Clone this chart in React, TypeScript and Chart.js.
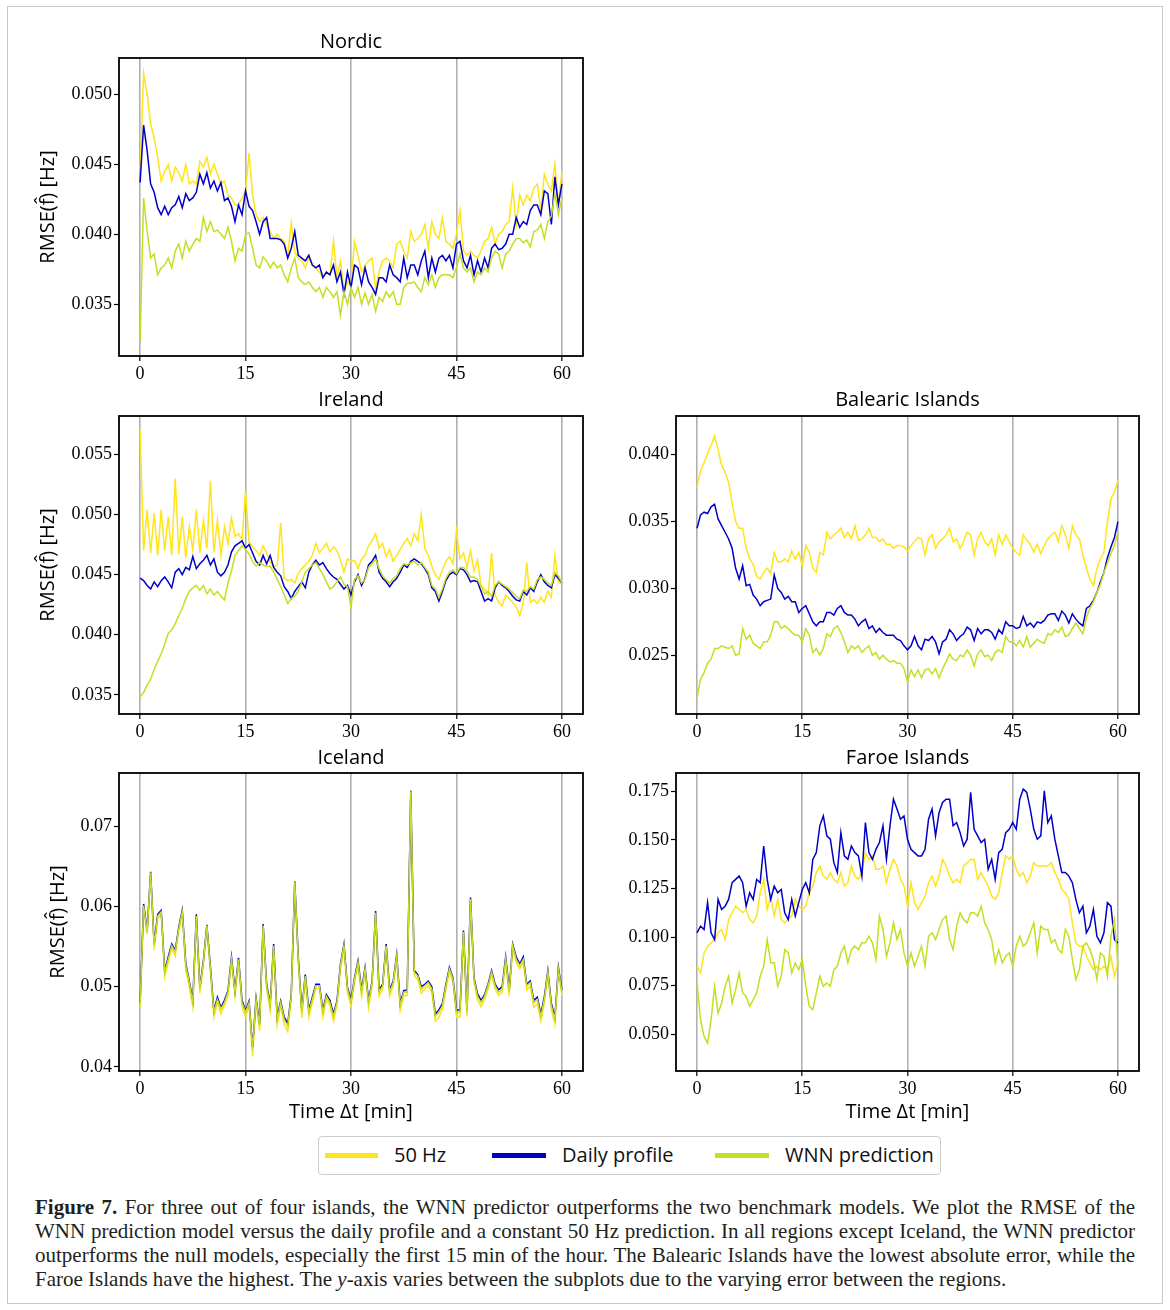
import React, { useEffect, useRef } from "react";
import { Chart, registerables } from "chart.js";

Chart.register(...registerables);

// time axis: one sample every 0.5 min
const TIME_MIN = Array.from({ length: 121 }, (_, i) => i * 0.5);
const X_TICKS = [0, 15, 30, 45, 60];
const SERIES_NAMES = ["50 Hz", "Daily profile", "WNN prediction"];
const SERIES_COLORS = ["#FFE419", "#0000C8", "#C6DE22"];

const NORDIC_50HZ = [
  0.0445, 0.0515, 0.0500, 0.0479, 0.0469, 0.0455, 0.0438, 0.0445, 0.0450, 0.0438,
  0.0448, 0.0444, 0.0438, 0.0450, 0.0436, 0.0438, 0.0436, 0.0452, 0.0448, 0.0455,
  0.0443, 0.0450, 0.0443, 0.0436, 0.0438, 0.0428, 0.0426, 0.0421, 0.0421, 0.0426,
  0.0431, 0.0458, 0.0428, 0.0414, 0.0409, 0.0412, 0.0407, 0.0402, 0.0397, 0.0400,
  0.0397, 0.0395, 0.0385, 0.0408, 0.0387, 0.0383, 0.0381, 0.0376, 0.0383, 0.0378,
  0.0376, 0.0373, 0.0369, 0.0373, 0.0371, 0.0395, 0.0369, 0.0381, 0.0359, 0.0366,
  0.0364,
  0.0395, 0.0385, 0.0373, 0.0378, 0.0381, 0.0383, 0.0361, 0.0373, 0.0381, 0.0383,
  0.0381, 0.0376, 0.0393, 0.0395, 0.0388, 0.0383, 0.0402, 0.0395, 0.0397, 0.0400,
  0.0407, 0.0390, 0.0409, 0.0400, 0.0397, 0.0412, 0.0395, 0.0393, 0.0390, 0.0400,
  0.0417, 0.0388, 0.0385, 0.0388, 0.0385, 0.0383, 0.0388, 0.0395, 0.0397, 0.0405,
  0.0393, 0.0400, 0.0402, 0.0407, 0.0409, 0.0433, 0.0407, 0.0428, 0.0421, 0.0428,
  0.0424, 0.0433, 0.0436, 0.0417, 0.0443, 0.0436, 0.0431, 0.0450, 0.0421, 0.0445,
];
const NORDIC_DAILY = [
  0.0437, 0.0478, 0.0460, 0.0436, 0.0430, 0.0419, 0.0414, 0.0420, 0.0414, 0.0419,
  0.0421, 0.0427, 0.0419, 0.0429, 0.0424, 0.0426, 0.0430, 0.0443, 0.0436, 0.0444,
  0.0433, 0.0438, 0.0431, 0.0437, 0.0424, 0.0426, 0.0420, 0.0409, 0.0421, 0.0414,
  0.0431, 0.0420, 0.0417, 0.0409, 0.0400, 0.0409, 0.0412, 0.0397, 0.0397, 0.0397,
  0.0396, 0.0393, 0.0383, 0.0390, 0.0402, 0.0385, 0.0383, 0.0381, 0.0385, 0.0378,
  0.0376, 0.0378, 0.0369, 0.0373, 0.0371, 0.0378, 0.0366, 0.0373, 0.0357, 0.0373,
  0.0362,
  0.0378, 0.0376, 0.0364, 0.0376, 0.0366, 0.0362, 0.0357, 0.0369, 0.0369, 0.0366,
  0.0378, 0.0371, 0.0369, 0.0366, 0.0383, 0.0369, 0.0378, 0.0378, 0.0371, 0.0381,
  0.0388, 0.0369, 0.0383, 0.0373, 0.0383, 0.0385, 0.0381, 0.0385, 0.0376, 0.0393,
  0.0395, 0.0381, 0.0376, 0.0385, 0.0371, 0.0381, 0.0373, 0.0383, 0.0376, 0.0390,
  0.0393, 0.0389, 0.0390, 0.0393, 0.0400, 0.0400, 0.0412, 0.0405, 0.0409, 0.0407,
  0.0417, 0.0421, 0.0421, 0.0414, 0.0431, 0.0429, 0.0407, 0.0441, 0.0421, 0.0436,
];
const NORDIC_WNN = [
  0.0323, 0.0426, 0.0402, 0.0383, 0.0386, 0.0371, 0.0376, 0.0378, 0.0383, 0.0376,
  0.0388, 0.0393, 0.0383, 0.0395, 0.0388, 0.0393, 0.0397, 0.0395, 0.0412, 0.0402,
  0.0409, 0.0402, 0.0403, 0.0400, 0.0397, 0.0405, 0.0395, 0.0381, 0.0390, 0.0388,
  0.0400, 0.0401, 0.0390, 0.0378, 0.0376, 0.0384, 0.0381, 0.0376, 0.0380, 0.0376,
  0.0378, 0.0371, 0.0366, 0.0376, 0.0383, 0.0369, 0.0366, 0.0364, 0.0366, 0.0362,
  0.0359, 0.0362, 0.0355, 0.0362, 0.0359, 0.0355, 0.0359, 0.0342, 0.0359, 0.0350,
  0.0362,
  0.0355, 0.0362, 0.0350, 0.0358, 0.0350, 0.0357, 0.0345, 0.0355, 0.0352, 0.0359,
  0.0355, 0.0359, 0.0350, 0.0350, 0.0362, 0.0365, 0.0365, 0.0366, 0.0362, 0.0359,
  0.0369, 0.0364, 0.0371, 0.0362, 0.0369, 0.0371, 0.0371, 0.0371, 0.0369, 0.0376,
  0.0386, 0.0376, 0.0373, 0.0376, 0.0366, 0.0373, 0.0371, 0.0376, 0.0373, 0.0383,
  0.0388, 0.0386, 0.0376, 0.0386, 0.0388, 0.0393, 0.0397, 0.0397, 0.0394, 0.0396,
  0.0391, 0.0402, 0.0403, 0.0407, 0.0397, 0.0409, 0.0413, 0.0429, 0.0414, 0.0426,
];

const IRELAND_50HZ = [
  0.0571, 0.0470, 0.0504, 0.0468, 0.0501, 0.0466, 0.0504, 0.0470, 0.0498, 0.0466,
  0.0530, 0.0467, 0.0498, 0.0464, 0.0490, 0.0470, 0.0504, 0.0468, 0.0495, 0.0472,
  0.0528, 0.0469, 0.0495, 0.0466, 0.0490, 0.0476, 0.0497, 0.0482, 0.0484, 0.0479,
  0.0519, 0.0477, 0.0473, 0.0470, 0.0466, 0.0474, 0.0468, 0.0461, 0.0456, 0.0458,
  0.0493, 0.0447, 0.0445, 0.0446, 0.0443, 0.0451, 0.0455, 0.0458, 0.0461, 0.0466,
  0.0476, 0.0468, 0.0472, 0.0476, 0.0469, 0.0473, 0.0470, 0.0462, 0.0452, 0.0463,
  0.0461,
  0.0462, 0.0455, 0.0463, 0.0466, 0.0474, 0.0478, 0.0484, 0.0472, 0.0476, 0.0465,
  0.0471, 0.0461, 0.0466, 0.0471, 0.0476, 0.0480, 0.0474, 0.0484, 0.0478, 0.0500,
  0.0472, 0.0466, 0.0457, 0.0450, 0.0446, 0.0454, 0.0461, 0.0465, 0.0459, 0.0487,
  0.0463, 0.0468, 0.0456, 0.0470, 0.0453, 0.0462, 0.0441, 0.0438, 0.0433, 0.0468,
  0.0433, 0.0427, 0.0424, 0.0433, 0.0430, 0.0427, 0.0423, 0.0416, 0.0427, 0.0460,
  0.0427, 0.0429, 0.0426, 0.0431, 0.0427, 0.0436, 0.0431, 0.0466, 0.0444, 0.0442,
];
const IRELAND_DAILY = [
  0.0447, 0.0445, 0.0441, 0.0438, 0.0444, 0.0440, 0.0445, 0.0448, 0.0444, 0.0439,
  0.0452, 0.0455, 0.0450, 0.0456, 0.0454, 0.0465, 0.0455, 0.0459, 0.0462, 0.0466,
  0.0458, 0.0463, 0.0452, 0.0449, 0.0452, 0.0458, 0.0469, 0.0474, 0.0476, 0.0478,
  0.0472, 0.0475, 0.0468, 0.0461, 0.0458, 0.0466, 0.0459, 0.0466, 0.0456, 0.0452,
  0.0449, 0.0440, 0.0436, 0.0430, 0.0436, 0.0440, 0.0444, 0.0439, 0.0452, 0.0458,
  0.0462, 0.0458, 0.0460, 0.0455, 0.0451, 0.0448, 0.0446, 0.0442, 0.0438, 0.0441,
  0.0433,
  0.0444, 0.0450, 0.0441, 0.0447, 0.0458, 0.0461, 0.0466, 0.0452, 0.0447, 0.0444,
  0.0440, 0.0444, 0.0447, 0.0452, 0.0458, 0.0456, 0.0461, 0.0463, 0.0461, 0.0459,
  0.0455, 0.0450, 0.0439, 0.0436, 0.0428, 0.0436, 0.0445, 0.0450, 0.0452, 0.0450,
  0.0455, 0.0454, 0.0450, 0.0444, 0.0445, 0.0444, 0.0436, 0.0428, 0.0430, 0.0428,
  0.0439, 0.0444, 0.0441, 0.0439, 0.0436, 0.0432, 0.0429, 0.0428, 0.0436, 0.0433,
  0.0439, 0.0436, 0.0444, 0.0450, 0.0444, 0.0441, 0.0439, 0.0450, 0.0447, 0.0443,
];
const IRELAND_WNN = [
  0.0348, 0.0352, 0.0358, 0.0363, 0.0371, 0.0378, 0.0384, 0.0392, 0.0401, 0.0404,
  0.0409, 0.0416, 0.0422, 0.0430, 0.0436, 0.0439, 0.0441, 0.0437, 0.0441, 0.0434,
  0.0438, 0.0433, 0.0436, 0.0432, 0.0429, 0.0443, 0.0453, 0.0466, 0.0470, 0.0474,
  0.0471, 0.0467, 0.0461, 0.0457, 0.0460, 0.0458, 0.0457, 0.0457, 0.0452, 0.0446,
  0.0440, 0.0433, 0.0426, 0.0430, 0.0432, 0.0436, 0.0444, 0.0452, 0.0455, 0.0458,
  0.0460, 0.0455, 0.0450, 0.0444, 0.0438, 0.0440, 0.0444, 0.0448, 0.0442, 0.0440,
  0.0423,
  0.0446, 0.0449, 0.0443, 0.0446, 0.0456, 0.0459, 0.0463, 0.0455, 0.0449, 0.0446,
  0.0443, 0.0447, 0.0449, 0.0455, 0.0459, 0.0458, 0.0460, 0.0461, 0.0458, 0.0460,
  0.0456, 0.0452, 0.0441, 0.0438, 0.0431, 0.0438, 0.0447, 0.0452, 0.0454, 0.0451,
  0.0456, 0.0456, 0.0453, 0.0448, 0.0448, 0.0446, 0.0440, 0.0434, 0.0436, 0.0432,
  0.0441, 0.0444, 0.0442, 0.0440, 0.0438, 0.0435, 0.0432, 0.0430, 0.0437, 0.0436,
  0.0440, 0.0438, 0.0446, 0.0448, 0.0446, 0.0443, 0.0441, 0.0452, 0.0449, 0.0443,
];

const BALEARIC_50HZ = [
  0.0376, 0.0388, 0.0394, 0.0401, 0.0407, 0.0414, 0.0404, 0.0392, 0.0387, 0.0379,
  0.0364, 0.0350, 0.0345, 0.0345, 0.0330, 0.0322, 0.0318, 0.0309, 0.0307, 0.0312,
  0.0315, 0.0311, 0.0327, 0.0320, 0.0320, 0.0322, 0.0320, 0.0328, 0.0322, 0.0327,
  0.0317, 0.0332, 0.0327, 0.0315, 0.0312, 0.0327, 0.0325, 0.0342, 0.0337, 0.0340,
  0.0342, 0.0345, 0.0338, 0.0342, 0.0337, 0.0347, 0.0336, 0.0337, 0.0340, 0.0345,
  0.0338, 0.0338, 0.0335, 0.0337, 0.0333, 0.0333, 0.0330, 0.0332, 0.0332, 0.0331,
  0.0328,
  0.0332, 0.0335, 0.0338, 0.0337, 0.0325, 0.0337, 0.0340, 0.0330, 0.0335, 0.0337,
  0.0340, 0.0345, 0.0335, 0.0337, 0.0330, 0.0335, 0.0342, 0.0340, 0.0325, 0.0337,
  0.0342, 0.0335, 0.0332, 0.0337, 0.0325, 0.0340, 0.0333, 0.0340, 0.0335, 0.0330,
  0.0327, 0.0325, 0.0340, 0.0336, 0.0333, 0.0327, 0.0333, 0.0326, 0.0332, 0.0337,
  0.0340, 0.0342, 0.0335, 0.0347, 0.0340, 0.0330, 0.0347, 0.0340, 0.0337, 0.0325,
  0.0315, 0.0307, 0.0302, 0.0315, 0.0322, 0.0327, 0.0350, 0.0367, 0.0372, 0.0381,
];
const BALEARIC_DAILY = [
  0.0345, 0.0355, 0.0357, 0.0356, 0.0361, 0.0363, 0.0352, 0.0347, 0.0342, 0.0337,
  0.0330, 0.0315, 0.0307, 0.0317, 0.0302, 0.0303, 0.0295, 0.0292, 0.0287, 0.0290,
  0.0291, 0.0292, 0.0310, 0.0300, 0.0297, 0.0292, 0.0294, 0.0290, 0.0290, 0.0282,
  0.0285, 0.0287, 0.0281, 0.0275, 0.0272, 0.0275, 0.0275, 0.0282, 0.0282, 0.0280,
  0.0285, 0.0287, 0.0282, 0.0280, 0.0280, 0.0277, 0.0272, 0.0275, 0.0277, 0.0270,
  0.0272, 0.0267, 0.0270, 0.0267, 0.0265, 0.0265, 0.0265, 0.0262, 0.0261, 0.0257,
  0.0254,
  0.0257, 0.0264, 0.0257, 0.0254, 0.0262, 0.0261, 0.0264, 0.0260, 0.0251, 0.0260,
  0.0262, 0.0269, 0.0266, 0.0261, 0.0264, 0.0266, 0.0271, 0.0269, 0.0261, 0.0270,
  0.0266, 0.0269, 0.0269, 0.0267, 0.0262, 0.0269, 0.0266, 0.0275, 0.0272, 0.0272,
  0.0270, 0.0271, 0.0279, 0.0272, 0.0274, 0.0271, 0.0275, 0.0274, 0.0276, 0.0280,
  0.0281, 0.0281, 0.0276, 0.0283, 0.0280, 0.0274, 0.0281, 0.0277, 0.0274, 0.0272,
  0.0285, 0.0287, 0.0291, 0.0297, 0.0305, 0.0312, 0.0323, 0.0331, 0.0338, 0.0350,
];
const BALEARIC_WNN = [
  0.0218, 0.0232, 0.0237, 0.0244, 0.0247, 0.0255, 0.0255, 0.0257, 0.0256, 0.0255,
  0.0257, 0.0250, 0.0251, 0.0270, 0.0262, 0.0265, 0.0259, 0.0257, 0.0255, 0.0260,
  0.0260, 0.0265, 0.0275, 0.0275, 0.0270, 0.0272, 0.0270, 0.0267, 0.0265, 0.0265,
  0.0260, 0.0270, 0.0265, 0.0252, 0.0255, 0.0250, 0.0255, 0.0266, 0.0264, 0.0270,
  0.0272, 0.0267, 0.0260, 0.0252, 0.0257, 0.0255, 0.0257, 0.0252, 0.0255, 0.0257,
  0.0250, 0.0252, 0.0247, 0.0250, 0.0247, 0.0245, 0.0246, 0.0244, 0.0244, 0.0240,
  0.0230,
  0.0239, 0.0234, 0.0239, 0.0233, 0.0239, 0.0240, 0.0236, 0.0240, 0.0233, 0.0240,
  0.0245, 0.0251, 0.0247, 0.0246, 0.0250, 0.0249, 0.0254, 0.0250, 0.0242, 0.0251,
  0.0254, 0.0249, 0.0250, 0.0246, 0.0252, 0.0254, 0.0252, 0.0264, 0.0260, 0.0260,
  0.0257, 0.0261, 0.0256, 0.0264, 0.0256, 0.0259, 0.0262, 0.0260, 0.0259, 0.0266,
  0.0265, 0.0269, 0.0267, 0.0271, 0.0264, 0.0265, 0.0270, 0.0274, 0.0270, 0.0266,
  0.0278, 0.0285, 0.0290, 0.0297, 0.0303, 0.0312, 0.0319, 0.0326, 0.0332, 0.0342,
];

const ICELAND_50HZ = [
  0.0474, 0.0598, 0.0565, 0.0640, 0.0546, 0.0585, 0.0590, 0.0512, 0.0530, 0.0548,
  0.0538, 0.0570, 0.0590, 0.0520, 0.0500, 0.0474, 0.0585, 0.0492, 0.0527, 0.0574,
  0.0518, 0.0462, 0.0480, 0.0466, 0.0477, 0.0489, 0.0531, 0.0488, 0.0531, 0.0475,
  0.0462, 0.0476, 0.0413, 0.0480, 0.0445, 0.0573, 0.0497, 0.0470, 0.0548, 0.0452,
  0.0476, 0.0453, 0.0444, 0.0484, 0.0628, 0.0530, 0.0461, 0.0510, 0.0462, 0.0480,
  0.0497, 0.0498, 0.0462, 0.0484, 0.0476, 0.0457, 0.0477, 0.0522, 0.0548, 0.0492,
  0.0476,
  0.0505, 0.0527, 0.0488, 0.0519, 0.0474, 0.0501, 0.0590, 0.0488, 0.0497, 0.0548,
  0.0488, 0.0501, 0.0535, 0.0470, 0.0489, 0.0489, 0.0741, 0.0514, 0.0509, 0.0492,
  0.0497, 0.0501, 0.0493, 0.0457, 0.0462, 0.0471, 0.0497, 0.0519, 0.0505, 0.0462,
  0.0462, 0.0565, 0.0463, 0.0607, 0.0505, 0.0483, 0.0475, 0.0484, 0.0497, 0.0515,
  0.0497, 0.0489, 0.0493, 0.0531, 0.0488, 0.0548, 0.0530, 0.0522, 0.0531, 0.0496,
  0.0501, 0.0474, 0.0479, 0.0457, 0.0480, 0.0515, 0.0471, 0.0453, 0.0519, 0.0489,
];
const ICELAND_DAILY = [
  0.0480, 0.0603, 0.0570, 0.0643, 0.0554, 0.0590, 0.0595, 0.0520, 0.0537, 0.0553,
  0.0545, 0.0574, 0.0595, 0.0529, 0.0507, 0.0483, 0.0590, 0.0499, 0.0532, 0.0577,
  0.0525, 0.0470, 0.0487, 0.0474, 0.0483, 0.0495, 0.0537, 0.0495, 0.0536, 0.0483,
  0.0470, 0.0482, 0.0425, 0.0486, 0.0454, 0.0578, 0.0503, 0.0479, 0.0553, 0.0462,
  0.0482, 0.0462, 0.0454, 0.0490, 0.0631, 0.0537, 0.0471, 0.0515, 0.0471, 0.0487,
  0.0503, 0.0503, 0.0471, 0.0490, 0.0483, 0.0466, 0.0482, 0.0528, 0.0553, 0.0499,
  0.0483,
  0.0511, 0.0532, 0.0496, 0.0524, 0.0483, 0.0507, 0.0594, 0.0496, 0.0503, 0.0553,
  0.0496, 0.0507, 0.0540, 0.0479, 0.0495, 0.0496, 0.0744, 0.0520, 0.0515, 0.0500,
  0.0503, 0.0507, 0.0500, 0.0466, 0.0471, 0.0479, 0.0503, 0.0524, 0.0511, 0.0471,
  0.0471, 0.0570, 0.0471, 0.0611, 0.0511, 0.0491, 0.0483, 0.0490, 0.0503, 0.0520,
  0.0503, 0.0496, 0.0500, 0.0537, 0.0496, 0.0553, 0.0537, 0.0528, 0.0537, 0.0503,
  0.0507, 0.0483, 0.0487, 0.0466, 0.0487, 0.0520, 0.0479, 0.0462, 0.0524, 0.0496,
];
const ICELAND_WNN = [
  0.0476, 0.0601, 0.0568, 0.0642, 0.0551, 0.0588, 0.0593, 0.0518, 0.0534, 0.0551,
  0.0543, 0.0572, 0.0593, 0.0526, 0.0505, 0.0480, 0.0588, 0.0497, 0.0530, 0.0576,
  0.0522, 0.0468, 0.0484, 0.0472, 0.0480, 0.0493, 0.0534, 0.0493, 0.0534, 0.0480,
  0.0468, 0.0480, 0.0422, 0.0484, 0.0451, 0.0576, 0.0501, 0.0476, 0.0551, 0.0459,
  0.0480, 0.0459, 0.0451, 0.0488, 0.0630, 0.0534, 0.0468, 0.0513, 0.0468, 0.0484,
  0.0501, 0.0501, 0.0468, 0.0488, 0.0480, 0.0463, 0.0480, 0.0526, 0.0551, 0.0497,
  0.0480,
  0.0509, 0.0530, 0.0493, 0.0522, 0.0480, 0.0505, 0.0592, 0.0493, 0.0501, 0.0551,
  0.0493, 0.0505, 0.0538, 0.0476, 0.0493, 0.0493, 0.0743, 0.0518, 0.0513, 0.0497,
  0.0501, 0.0505, 0.0497, 0.0463, 0.0468, 0.0476, 0.0501, 0.0522, 0.0509, 0.0468,
  0.0468, 0.0568, 0.0468, 0.0609, 0.0509, 0.0488, 0.0480, 0.0488, 0.0501, 0.0518,
  0.0501, 0.0493, 0.0497, 0.0534, 0.0493, 0.0551, 0.0534, 0.0526, 0.0534, 0.0501,
  0.0505, 0.0480, 0.0484, 0.0463, 0.0484, 0.0518, 0.0476, 0.0459, 0.0522, 0.0493,
];

const FAROE_50HZ = [
  0.0850, 0.0815, 0.0918, 0.0953, 0.0970, 0.0987, 0.1022, 0.1039, 0.0987, 0.1090,
  0.1125, 0.1159, 0.1142, 0.1125, 0.1142, 0.1090, 0.1073, 0.1108, 0.1228, 0.1297,
  0.1142, 0.1211, 0.1108, 0.1194, 0.1090, 0.1073, 0.1090, 0.1108, 0.1194, 0.1159,
  0.1142, 0.1159, 0.1228, 0.1263, 0.1332, 0.1366, 0.1314, 0.1297, 0.1332, 0.1297,
  0.1280, 0.1332, 0.1263, 0.1280, 0.1366, 0.1314, 0.1297, 0.1332, 0.1435, 0.1400,
  0.1418, 0.1349, 0.1349, 0.1366, 0.1280, 0.1349, 0.1400, 0.1366, 0.1297, 0.1263,
  0.1159,
  0.1280, 0.1177, 0.1142, 0.1177, 0.1211, 0.1280, 0.1314, 0.1263, 0.1314, 0.1400,
  0.1366, 0.1314, 0.1280, 0.1297, 0.1280, 0.1366, 0.1383, 0.1400, 0.1400, 0.1297,
  0.1332, 0.1297, 0.1263, 0.1211, 0.1194, 0.1228, 0.1332, 0.1418, 0.1400, 0.1418,
  0.1349, 0.1314, 0.1332, 0.1280, 0.1314, 0.1383, 0.1366, 0.1366, 0.1366, 0.1366,
  0.1383, 0.1332, 0.1297, 0.1245, 0.1228, 0.1194, 0.1073, 0.0970, 0.0953, 0.0953,
  0.0901, 0.0867, 0.0832, 0.0850, 0.0832, 0.0850, 0.0832, 0.0901, 0.0798, 0.0867,
];
const FAROE_DAILY = [
  0.1022, 0.1056, 0.1039, 0.1177, 0.1022, 0.0987, 0.1194, 0.1142, 0.1159, 0.1194,
  0.1280, 0.1297, 0.1314, 0.1280, 0.1159, 0.1228, 0.1194, 0.1297, 0.1280, 0.1469,
  0.1297, 0.1194, 0.1263, 0.1228, 0.1245, 0.1125, 0.1090, 0.1194, 0.1108, 0.1177,
  0.1245, 0.1280, 0.1228, 0.1400, 0.1435, 0.1573, 0.1624, 0.1521, 0.1504, 0.1383,
  0.1332, 0.1538, 0.1418, 0.1400, 0.1469, 0.1435, 0.1418, 0.1314, 0.1590, 0.1435,
  0.1400, 0.1452, 0.1487, 0.1573, 0.1400, 0.1573, 0.1710, 0.1659, 0.1607, 0.1624,
  0.1504,
  0.1452, 0.1435, 0.1418, 0.1418, 0.1452, 0.1607, 0.1659, 0.1521, 0.1641, 0.1693,
  0.1710, 0.1710, 0.1573, 0.1590, 0.1538, 0.1469, 0.1504, 0.1745, 0.1555, 0.1521,
  0.1487, 0.1504, 0.1349, 0.1400, 0.1297, 0.1435, 0.1452, 0.1538, 0.1555, 0.1590,
  0.1555, 0.1710, 0.1762, 0.1745, 0.1659, 0.1555, 0.1504, 0.1521, 0.1753, 0.1590,
  0.1624, 0.1504, 0.1418, 0.1332, 0.1332, 0.1314, 0.1280, 0.1194, 0.1125, 0.1159,
  0.1022, 0.1056, 0.1142, 0.1004, 0.0970, 0.1022, 0.1177, 0.1159, 0.0987, 0.0970,
];
const FAROE_WNN = [
  0.0763, 0.0574, 0.0488, 0.0454, 0.0574, 0.0746, 0.0608, 0.0660, 0.0746, 0.0798,
  0.0660, 0.0729, 0.0815, 0.0712, 0.0694, 0.0643, 0.0677, 0.0712, 0.0798, 0.0850,
  0.0987, 0.0867, 0.0867, 0.0746, 0.0798, 0.0935, 0.0918, 0.0815, 0.0867, 0.0832,
  0.0884, 0.0746, 0.0643, 0.0626, 0.0712, 0.0798, 0.0746, 0.0763, 0.0746, 0.0832,
  0.0850, 0.0918, 0.0953, 0.0867, 0.0935, 0.0953, 0.0935, 0.0970, 0.0970, 0.1004,
  0.0970, 0.0884, 0.1108, 0.1039, 0.0901, 0.0970, 0.1073, 0.0987, 0.1039, 0.0918,
  0.0850,
  0.0918, 0.0850, 0.0901, 0.0953, 0.0850, 0.1004, 0.1022, 0.0987, 0.1039, 0.1090,
  0.1108, 0.0987, 0.0935, 0.1056, 0.1125, 0.1090, 0.1073, 0.1125, 0.1125, 0.1108,
  0.1159, 0.1073, 0.1039, 0.0987, 0.0867, 0.0935, 0.0867, 0.0901, 0.0918, 0.0850,
  0.0953, 0.1004, 0.0953, 0.0970, 0.1022, 0.1073, 0.0918, 0.1056, 0.1039, 0.1039,
  0.0970, 0.0987, 0.0935, 0.0918, 0.1039, 0.1004, 0.0884, 0.0781, 0.0832, 0.0953,
  0.0970, 0.0935, 0.0884, 0.0781, 0.0918, 0.0901, 0.0798, 0.1004, 0.1090, 0.0850,
];

const Y_TICKS_NORDIC = [0.035, 0.04, 0.045, 0.05];
const Y_TICKS_IRELAND = [0.035, 0.04, 0.045, 0.05, 0.055];
const Y_TICKS_BALEARIC = [0.025, 0.03, 0.035, 0.04];
const Y_TICKS_ICELAND = [0.04, 0.05, 0.06, 0.07];
const Y_TICKS_FAROE = [0.05, 0.075, 0.1, 0.125, 0.15, 0.175];

const SERIF = "'Liberation Serif', 'DejaVu Serif', serif";
const SANS = "'Open Sans', 'DejaVu Sans', sans-serif";

type PanelCfg = {
  title: string;
  series: number[][];
  yMin: number;
  yMax: number;
  yTicks: number[];
  dec: number;
  left: number;
  top: number;
  width: number;
  height: number;
  yWidth: number;
  xHeight: number;
  titlePadBottom: number;
  yTitle: boolean;
  yTitlePad: number;
  xTitle: boolean;
};

const PANELS: PanelCfg[] = [
  { title: "Nordic", series: [NORDIC_50HZ, NORDIC_DAILY, NORDIC_WNN], yMin: 0.0313, yMax: 0.0526,
    yTicks: Y_TICKS_NORDIC, dec: 3, left: 20, top: 26, width: 575, height: 360, yWidth: 99, xHeight: 30,
    titlePadBottom: 4, yTitle: true, yTitlePad: 16, xTitle: false },
  { title: "Ireland", series: [IRELAND_50HZ, IRELAND_DAILY, IRELAND_WNN], yMin: 0.0334, yMax: 0.0582,
    yTicks: Y_TICKS_IRELAND, dec: 3, left: 20, top: 384, width: 575, height: 360, yWidth: 99, xHeight: 30,
    titlePadBottom: 4, yTitle: true, yTitlePad: 16, xTitle: false },
  { title: "Balearic Islands", series: [BALEARIC_50HZ, BALEARIC_DAILY, BALEARIC_WNN], yMin: 0.0206, yMax: 0.0429,
    yTicks: Y_TICKS_BALEARIC, dec: 3, left: 600, top: 384, width: 551, height: 360, yWidth: 76, xHeight: 30,
    titlePadBottom: 4, yTitle: false, yTitlePad: 0, xTitle: false },
  { title: "Iceland", series: [ICELAND_50HZ, ICELAND_DAILY, ICELAND_WNN], yMin: 0.0395, yMax: 0.0766,
    yTicks: Y_TICKS_ICELAND, dec: 2, left: 20, top: 742, width: 575, height: 389, yWidth: 99, xHeight: 60,
    titlePadBottom: 3, yTitle: true, yTitlePad: 26, xTitle: true },
  { title: "Faroe Islands", series: [FAROE_50HZ, FAROE_DAILY, FAROE_WNN], yMin: 0.031, yMax: 0.1845,
    yTicks: Y_TICKS_FAROE, dec: 3, left: 600, top: 742, width: 551, height: 389, yWidth: 76, xHeight: 60,
    titlePadBottom: 3, yTitle: false, yTitlePad: 0, xTitle: true },
];

const framePlugin = {
  id: "frame",
  afterDraw(chart: any) {
    const { ctx, chartArea: a } = chart;
    ctx.save();
    ctx.strokeStyle = "#000";
    ctx.lineWidth = 1.8;
    ctx.strokeRect(a.left, a.top, a.right - a.left, a.bottom - a.top);
    ctx.restore();
  },
};

function Panel({ cfg }: { cfg: PanelCfg }) {
  const ref = useRef<HTMLCanvasElement>(null);
  useEffect(() => {
    if (!ref.current) return;
    const datasets = cfg.series.map((vals, k) => ({
      label: SERIES_NAMES[k],
      data: TIME_MIN.map((t, i) => ({ x: t, y: vals[i] })),
      borderColor: SERIES_COLORS[k],
      backgroundColor: SERIES_COLORS[k],
      borderWidth: 1.5,
      pointRadius: 0,
      tension: 0,
      fill: false,
      order: 3 - k,
    }));
    const chart = new Chart(ref.current, {
      type: "line",
      data: { datasets },
      options: {
        responsive: false,
        maintainAspectRatio: false,
        animation: false,
        devicePixelRatio: 1,
        layout: { padding: { left: 0, right: 12, top: 0, bottom: 0 } },
        plugins: {
          legend: { display: false },
          tooltip: { enabled: false },
          title: {
            display: true,
            text: cfg.title,
            fullSize: false,
            color: "#000",
            font: { family: SANS, size: 20, weight: "normal", lineHeight: 1.2 },
            padding: { top: 4, bottom: cfg.titlePadBottom },
          },
        },
        scales: {
          x: {
            type: "linear",
            min: -3,
            max: 63,
            afterBuildTicks: (s: any) => {
              s.ticks = X_TICKS.map((v) => ({ value: v }));
            },
            afterFit: (s: any) => {
              s.height = cfg.xHeight;
            },
            border: { display: false },
            grid: {
              color: "#b0b0b0",
              lineWidth: 1.6,
              drawTicks: true,
              tickLength: 5,
              tickColor: "#000",
              tickWidth: 1.2,
            },
            ticks: {
              color: "#000",
              font: { family: SERIF, size: 18 },
              padding: 2,
              maxRotation: 0,
              autoSkip: false,
              callback: (v: any) => String(v),
            },
            title: {
              display: cfg.xTitle,
              text: "Time Δt [min]",
              color: "#000",
              font: { family: SANS, size: 20, lineHeight: 1.2 },
              padding: { top: 0, bottom: 7 },
            },
          },
          y: {
            type: "linear",
            min: cfg.yMin,
            max: cfg.yMax,
            afterBuildTicks: (s: any) => {
              s.ticks = cfg.yTicks.map((v) => ({ value: v }));
            },
            afterFit: (s: any) => {
              s.width = cfg.yWidth;
            },
            border: { display: false },
            grid: {
              drawOnChartArea: false,
              drawTicks: true,
              tickLength: 5,
              tickColor: "#000",
              tickWidth: 1.2,
            },
            ticks: {
              color: "#000",
              font: { family: SERIF, size: 18 },
              padding: 2,
              autoSkip: false,
              callback: (v: any) => Number(v).toFixed(cfg.dec),
            },
            title: {
              display: cfg.yTitle,
              text: "RMSE(f\u0302) [Hz]",
              color: "#000",
              font: { family: SANS, size: 20, lineHeight: 1.2 },
              padding: { top: cfg.yTitlePad, bottom: 0 },
            },
          },
        },
      } as any,
      plugins: [framePlugin],
    });
    return () => chart.destroy();
  }, [cfg]);
  return (
    <canvas
      ref={ref}
      width={cfg.width}
      height={cfg.height}
      style={{ position: "absolute", left: cfg.left, top: cfg.top, width: cfg.width, height: cfg.height }}
    />
  );
}

const LEGEND_ITEMS = [
  { lineLeft: 325, lineWidth: 53, textLeft: 394 },
  { lineLeft: 492, lineWidth: 54, textLeft: 562 },
  { lineLeft: 715, lineWidth: 54, textLeft: 785 },
];

const CAPTION_LINES = [
  "For three out of four islands, the WNN predictor outperforms the two benchmark models. We plot the RMSE of the",
  "WNN prediction model versus the daily profile and a constant 50 Hz prediction. In all regions except Iceland, the WNN predictor",
  "outperforms the null models, especially the first 15 min of the hour. The Balearic Islands have the lowest absolute error, while the",
];

export default function App() {
  const lineStyle = (i: number, justify: boolean): React.CSSProperties => ({
    position: "absolute",
    left: 35,
    top: 1195 + i * 24,
    width: 1100,
    height: 24,
    lineHeight: "24px",
    fontFamily: SERIF,
    fontSize: 21,
    color: "#231f20",
    whiteSpace: "nowrap",
    textAlign: justify ? "justify" : "left",
    textAlignLast: justify ? "justify" : "left",
  } as React.CSSProperties);

  return (
    <div style={{ position: "absolute", left: 0, top: 0, width: 1170, height: 1310, background: "#fff", overflow: "hidden" }}>
      <div
        style={{
          position: "absolute",
          left: 7,
          top: 6,
          width: 1156,
          height: 1298,
          border: "1px solid #c8c8c8",
          boxSizing: "border-box",
        }}
      />
      {PANELS.map((p) => (
        <Panel key={p.title} cfg={p} />
      ))}
      <div
        style={{
          position: "absolute",
          left: 318,
          top: 1136,
          width: 623,
          height: 39,
          border: "1px solid #cccccc",
          borderRadius: 4,
          boxSizing: "border-box",
        }}
      />
      {LEGEND_ITEMS.map((it, k) => (
        <React.Fragment key={k}>
          <div
            style={{
              position: "absolute",
              left: it.lineLeft,
              top: 1153,
              width: it.lineWidth,
              height: 5,
              background: SERIES_COLORS[k],
            }}
          />
          <div
            style={{
              position: "absolute",
              left: it.textLeft,
              top: 1143,
              height: 24,
              lineHeight: "24px",
              fontFamily: SANS,
              fontSize: 20,
              color: "#111",
              whiteSpace: "nowrap",
            }}
          >
            {SERIES_NAMES[k]}
          </div>
        </React.Fragment>
      ))}
      <div style={lineStyle(0, true)}>
        <b>Figure 7.</b> {CAPTION_LINES[0]}
      </div>
      <div style={lineStyle(1, true)}>{CAPTION_LINES[1]}</div>
      <div style={lineStyle(2, true)}>{CAPTION_LINES[2]}</div>
      <div style={lineStyle(3, false)}>
        Faroe Islands have the highest. The <i>y</i>-axis varies between the subplots due to the varying error between the regions.
      </div>
    </div>
  );
}
